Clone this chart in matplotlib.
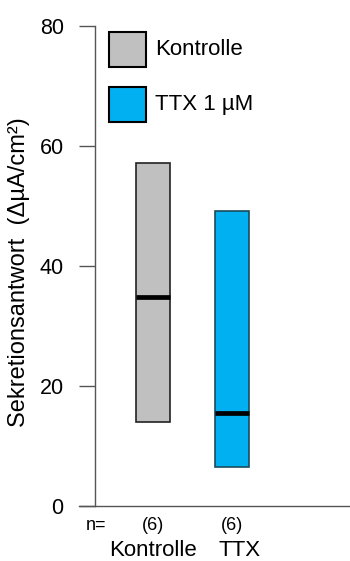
import matplotlib
matplotlib.use("Agg")
import matplotlib.pyplot as plt
from matplotlib.patches import Rectangle

plt.rcParams['font.family'] = ['Liberation Sans', 'DejaVu Sans']

# Floating bars: range (min..max) with median line
groups = ["Kontrolle", "TTX"]
legend_labels = ["Kontrolle", "TTX 1 µM"]
minimum = [14.0, 6.5]
maximum = [57.1, 49.1]
median = [34.8, 15.5]
n_counts = [6, 6]
colors = ["#C0C0C0", "#00B0F0"]
edges = ["#222222", "#1d4b5c"]
y_ticks = [0, 20, 40, 60, 80]

W, H = 350, 561
fig = plt.figure(figsize=(W / 100, H / 100), dpi=100)
ax = fig.add_axes([79 / W, 55 / H, 271 / W, 480 / H])

xpos = [1, 2]
xmin = 1 - 74 / 79
xmax = xmin + 271 / 79
ax.set_xlim(xmin, xmax)
ax.set_ylim(0, 80)

for x, lo, hi, med, c, e in zip(xpos, minimum, maximum, median, colors, edges):
    ax.bar(x, hi - lo, bottom=lo, width=0.43, color=c, edgecolor=e,
           linewidth=1.2, zorder=2)
    ax.hlines(med, x - 0.215, x + 0.215, color="black", linewidth=3.4, zorder=3)

axis_col = "#555555"
for s in ["top", "right"]:
    ax.spines[s].set_visible(False)
ax.spines["left"].set_position(("data", xmin + 16 / 79))
ax.spines["left"].set_color(axis_col)
ax.spines["bottom"].set_color(axis_col)
ax.spines["left"].set_linewidth(1.0)
ax.spines["bottom"].set_linewidth(1.0)

ax.set_yticks(y_ticks)
ax.set_yticklabels([str(t) for t in y_ticks])
ax.tick_params(axis="y", direction="out", length=11.5, width=1.0,
               color=axis_col, labelsize=15.5, pad=11)
ax.set_xticks([])

fig.text(19 / W, 1 - 272 / H, "Sekretionsantwort  (ΔµA/cm²)", rotation=90,
         ha="center", va="center", fontsize=17)

# n row and group labels under the axis
fig.text(86 / W, 1 - 525 / H, "n=", ha="left", va="center", fontsize=13)
trans = ax.get_xaxis_transform()
for x, n in zip(xpos, n_counts):
    ax.text(x, -19 / 480, f"({n})", transform=trans, ha="center", va="center",
            fontsize=13, clip_on=False)
label_x = [1, 2.09]
for x, g in zip(label_x, groups):
    ax.text(x, -50 / 480, g, transform=trans, ha="center", va="baseline",
            fontsize=16, clip_on=False)

# Legend drawn as boxes with text
for i, (lab, c) in enumerate(zip(legend_labels, colors)):
    top = 32 + i * 55
    fig.patches.append(Rectangle((109 / W, 1 - (top + 35) / H), 37 / W, 35 / H,
                                 transform=fig.transFigure, facecolor=c,
                                 edgecolor="black", linewidth=1.5))
    fig.text(155 / W, 1 - (top + 17.5) / H, lab, ha="left", va="center",
             fontsize=16)

fig.savefig("out.png", dpi=100)
